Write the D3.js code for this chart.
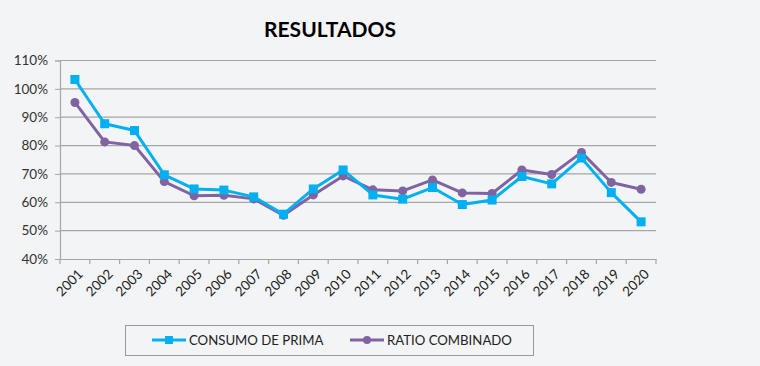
<!DOCTYPE html>
<html><head><meta charset="utf-8">
<script src="https://cdn.jsdelivr.net/npm/d3@7"></script>
<style>body{margin:0;background:#f3f4f6;}svg{display:block;}</style>
</head><body><svg id="c" width="760" height="366"></svg>
<script>
const years = ["2001","2002","2003","2004","2005","2006","2007","2008","2009","2010","2011","2012","2013","2014","2015","2016","2017","2018","2019","2020"];
const consumoPrima = [103.3,87.7,85.3,69.7,64.7,64.3,61.9,55.8,64.7,71.4,62.6,61.1,65.2,59.2,60.8,69.1,66.5,75.6,63.4,53.1];
const ratioCombinado = [95.2,81.3,80.0,67.3,62.3,62.5,61.2,55.4,62.6,69.3,64.4,64.0,67.9,63.3,63.1,71.4,69.8,77.6,67.0,64.6];
const yTicks = [40,50,60,70,80,90,100,110];
const seriesNames = ["CONSUMO DE PRIMA","RATIO COMBINADO"];
const colors = ["#00B0F0","#8064A2"];

const svg = d3.select("#c");
const font = "Lato, 'Open Sans', sans-serif";
svg.append("rect").attr("width",760).attr("height",366).attr("fill","#f3f4f6");

const x = d3.scaleBand().domain(years).range([60,656]);
const y = d3.scaleLinear().domain([40,110]).range([259,60.5]);

// gridlines
svg.append("g").selectAll("line").data(yTicks.slice(1)).join("line")
  .attr("x1",60).attr("x2",656).attr("y1",d=>y(d)).attr("y2",d=>y(d))
  .attr("stroke","#a6a6a6").attr("stroke-width",1.2);

// y axis
const yAxis = svg.append("g").attr("transform","translate(60,0)")
  .call(d3.axisLeft(y).tickValues(yTicks).tickFormat(d=>d+"%").tickSize(5));
yAxis.select(".domain").attr("stroke","#a6a6a6").attr("stroke-width",1.2);
yAxis.selectAll(".tick line").attr("stroke","#a6a6a6");
yAxis.selectAll("text").attr("font-family",font).attr("font-size",13.5).attr("fill","#333").attr("x",-12);

// x axis
const xAxis = svg.append("g").attr("transform","translate(0,259)")
  .call(d3.axisBottom(x).tickSize(0));
xAxis.select(".domain").attr("stroke","#a6a6a6").attr("stroke-width",1.2);
xAxis.selectAll(".tick text").attr("font-family",font).attr("font-size",13.5).attr("fill","#222")
  .attr("text-anchor","end").attr("dy","0").attr("y",0)
  .attr("transform","translate(9,16) rotate(-45)");
svg.append("g").selectAll("line").data(d3.range(years.length+1)).join("line")
  .attr("x1",i=>60+i*x.step()).attr("x2",i=>60+i*x.step()).attr("y1",259).attr("y2",264)
  .attr("stroke","#a6a6a6").attr("stroke-width",1.2);

const cx = d=>x(d)+x.bandwidth()/2;
const line = d3.line().x((d,i)=>cx(years[i])).y(d=>y(d));

// ratio series
svg.append("path").datum(ratioCombinado).attr("d",line).attr("fill","none")
  .attr("stroke",colors[1]).attr("stroke-width",3).attr("stroke-linejoin","round");
svg.append("g").selectAll("circle").data(ratioCombinado).join("circle")
  .attr("cx",(d,i)=>cx(years[i])).attr("cy",d=>y(d)).attr("r",4.5).attr("fill",colors[1]);

// consumo series
svg.append("path").datum(consumoPrima).attr("d",line).attr("fill","none")
  .attr("stroke",colors[0]).attr("stroke-width",3).attr("stroke-linejoin","round");
svg.append("g").selectAll("rect").data(consumoPrima).join("rect")
  .attr("x",(d,i)=>cx(years[i])-4.5).attr("y",d=>y(d)-4.5).attr("width",9).attr("height",9).attr("fill",colors[0]);

// title
svg.append("text").attr("x",330).attr("y",37).attr("text-anchor","middle")
  .attr("font-family",font).attr("font-weight","bold").attr("font-size",21).attr("fill","#000").text("RESULTADOS");

// legend
svg.append("rect").attr("x",125.5).attr("y",325.5).attr("width",408).attr("height",30)
  .attr("fill","#f3f4f6").attr("stroke","#999").attr("stroke-width",1);
const lg = [{x:152,name:seriesNames[0],c:colors[0],shape:"sq"},{x:350,name:seriesNames[1],c:colors[1],shape:"ci"}];
lg.forEach(l=>{
  svg.append("line").attr("x1",l.x).attr("x2",l.x+34).attr("y1",340).attr("y2",340).attr("stroke",l.c).attr("stroke-width",3);
  if(l.shape==="sq") svg.append("rect").attr("x",l.x+13).attr("y",336).attr("width",8).attr("height",8).attr("fill",l.c);
  else svg.append("circle").attr("cx",l.x+17).attr("cy",340).attr("r",4).attr("fill",l.c);
  svg.append("text").attr("x",l.x+37).attr("y",345).attr("font-family",font).attr("font-size",13.2).attr("fill","#222").text(l.name);
});
</script></body></html>
